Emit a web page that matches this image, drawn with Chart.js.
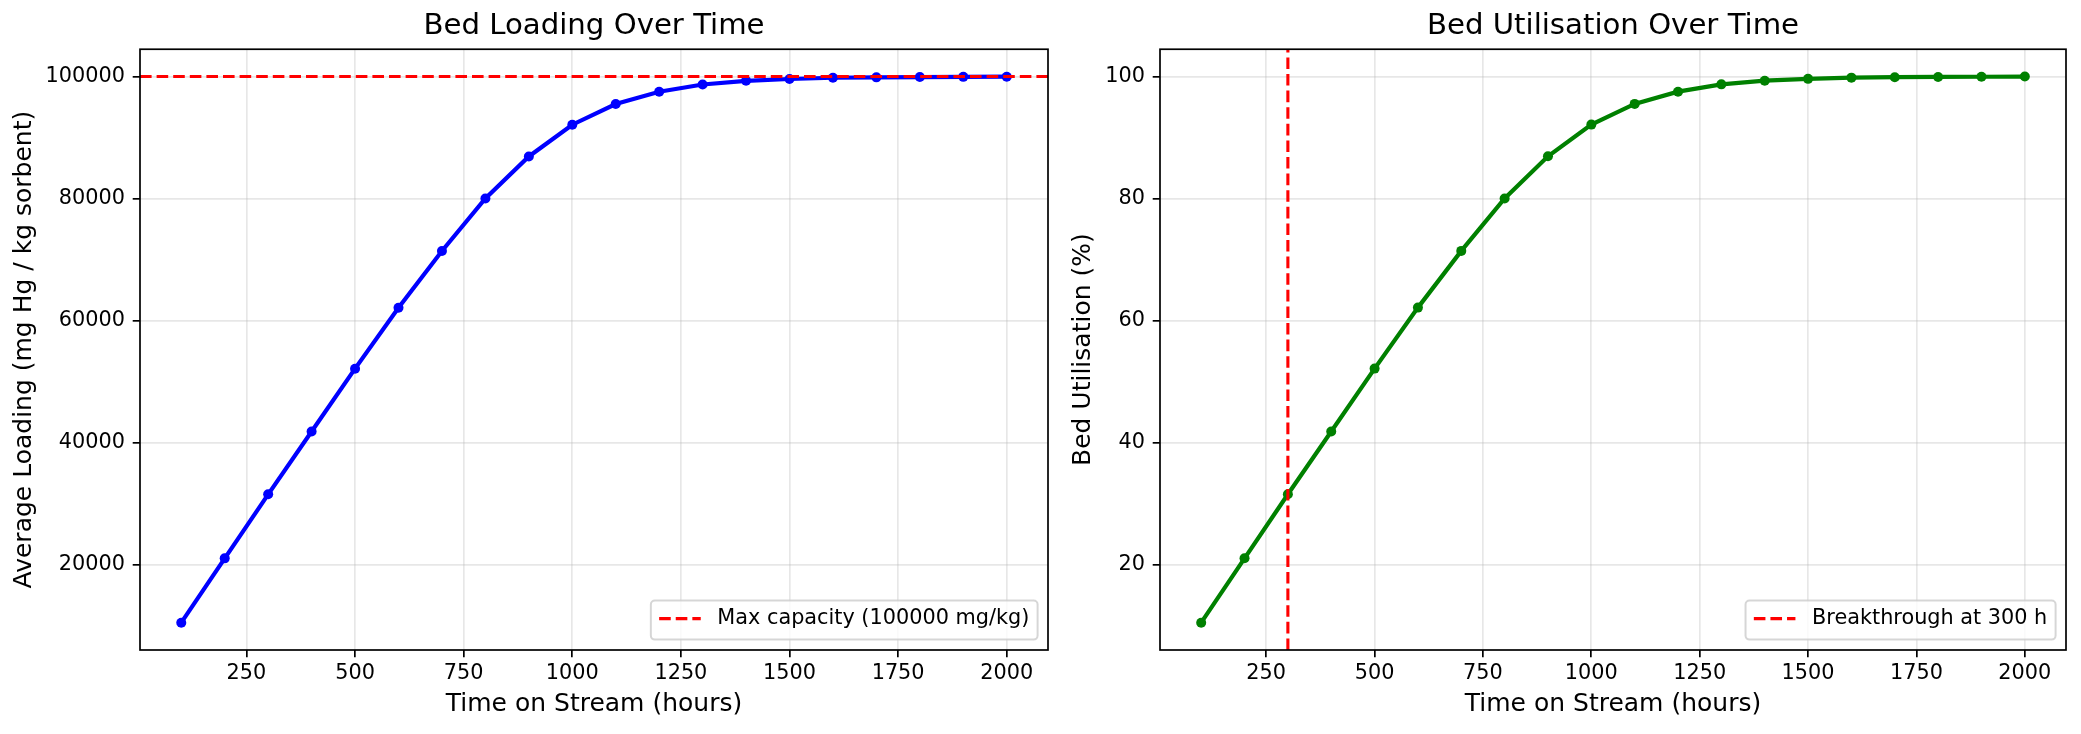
<!DOCTYPE html>
<html>
<head>
<meta charset="utf-8">
<script src="https://cdn.jsdelivr.net/npm/chart.js@4.4.1/dist/chart.umd.min.js"></script>
<style>
    body { margin: 0; background: #fff; }
    #left { position: absolute; left: 0; top: 0; }
    #right { position: absolute; left: 1060px; top: 0; }
</style>
</head>
<body>
<canvas id="left" width="1060" height="734"></canvas>
<canvas id="right" width="1021" height="734"></canvas>
<script>
// data
var hours = [100, 200, 300, 400, 500, 600, 700, 800, 900, 1000,
             1100, 1200, 1300, 1400, 1500, 1600, 1700, 1800, 1900, 2000];
var loading = [10450, 21000, 31500, 41800, 52100, 62100, 71400, 80000, 86900, 92100,
               95500, 97500, 98700, 99300, 99600, 99800, 99870, 99920, 99950, 99980];
var utilisation = [10.45, 21.0, 31.5, 41.8, 52.1, 62.1, 71.4, 80.0, 86.9, 92.1,
                   95.5, 97.5, 98.7, 99.3, 99.6, 99.8, 99.87, 99.92, 99.95, 99.98];
var maxCapacity = 100000;
var breakthroughHour = 300;

var xTicks = [250, 500, 750, 1000, 1250, 1500, 1750, 2000];
var loadingTicks = [20000, 40000, 60000, 80000, 100000];
var utilTicks = [20, 40, 60, 80, 100];

var FONT = '"DejaVu Sans", sans-serif';
var gridColor = 'rgba(176,176,176,0.3)';

// matplotlib style 5% margins
function range(lo, hi) {
    var p = (hi - lo) * 0.05;
    return [lo - p, hi + p];
}
var xr = range(Math.min.apply(null, hours), Math.max.apply(null, hours));
var lr = range(Math.min.apply(null, loading), maxCapacity);
var ur = range(Math.min.apply(null, utilisation), Math.max.apply(null, utilisation));

function points(xs, ys) {
    var out = [];
    for (var i = 0; i < xs.length; i++) out.push({x: xs[i], y: ys[i]});
    return out;
}

function fixedTicks(list) {
    return function (scale) {
        scale.ticks = list.map(function (v) { return {value: v}; });
    };
}

function xAxis() {
    return {
        type: 'linear', min: xr[0], max: xr[1],
        afterBuildTicks: fixedTicks(xTicks),
        afterFit: function (s) { s.height = 84; },
        border: {display: false},
        grid: {color: gridColor, lineWidth: 1.7, tickColor: '#000', tickWidth: 1.7, tickLength: 7.3},
        ticks: {color: '#000', font: {family: FONT, size: 20.8}, padding: 4, maxRotation: 0, autoSkip: false,
                callback: function (v) { return String(v); }},
        title: {display: true, text: 'Time on Stream (hours)', color: '#000',
                font: {family: FONT, size: 25}, padding: {top: 0, bottom: 14.7}}
    };
}

function yAxis(r, ticks, label, width, pad) {
    return {
        type: 'linear', min: r[0], max: r[1],
        afterBuildTicks: fixedTicks(ticks),
        afterFit: function (s) { s.width = width; },
        border: {display: false},
        grid: {color: gridColor, lineWidth: 1.7, tickColor: '#000', tickWidth: 1.7, tickLength: 7.3},
        ticks: {color: '#000', font: {family: FONT, size: 20.8}, padding: 7.7, autoSkip: false,
                callback: function (v) { return String(v); }},
        title: {display: true, text: label, color: '#000',
                font: {family: FONT, size: 25}, padding: {top: pad, bottom: 0}}
    };
}

// axes frame + matplotlib-like legend in the lower right corner
var frameLegend = {
    id: 'frameLegend',
    afterDraw: function (chart) {
        var ctx = chart.ctx, a = chart.chartArea;
        ctx.save();
        ctx.strokeStyle = '#000';
        ctx.lineWidth = 1.7;
        ctx.strokeRect(a.left, a.top, a.right - a.left, a.bottom - a.top);

        var ds = chart.data.datasets.filter(function (d) { return d.borderDash; })[0];
        ctx.font = '20.8px ' + FONT;
        var tw = ctx.measureText(ds.label).width;
        var w = 8.3 + 41.6 + 16.6 + tw + 8.3, h = 39;
        var x = a.right - 10.4 - w, y = a.bottom - 10.4 - h;
        ctx.beginPath();
        ctx.roundRect(x, y, w, h, 4);
        ctx.fillStyle = 'rgba(255,255,255,0.8)';
        ctx.fill();
        ctx.strokeStyle = 'rgba(204,204,204,0.8)';
        ctx.lineWidth = 2;
        ctx.stroke();

        var cy = y + h / 2 - 1.5;
        ctx.beginPath();
        ctx.setLineDash(ds.borderDash);
        ctx.strokeStyle = ds.borderColor;
        ctx.lineWidth = ds.borderWidth;
        ctx.moveTo(x + 8.3, cy);
        ctx.lineTo(x + 8.3 + 41.6, cy);
        ctx.stroke();
        ctx.setLineDash([]);

        ctx.fillStyle = '#000';
        ctx.textBaseline = 'middle';
        ctx.textAlign = 'left';
        ctx.fillText(ds.label, x + 8.3 + 41.6 + 16.6, cy);
        ctx.restore();
    }
};

function makeChart(id, title, datasets, yScale, rightPad) {
    return new Chart(document.getElementById(id), {
        type: 'line',
        data: {datasets: datasets},
        options: {
            responsive: false,
            animation: false,
            events: [],
            layout: {padding: {top: 0, left: 0, right: rightPad, bottom: 0}},
            scales: {x: xAxis(), y: yScale},
            plugins: {
                legend: {display: false},
                tooltip: {enabled: false},
                title: {display: true, text: title, color: '#000', fullSize: false,
                        font: {family: FONT, size: 29.2, weight: 'normal', lineHeight: 1.2},
                        padding: {top: 9.1, bottom: 5.1}}
            }
        },
        plugins: [frameLegend]
    });
}

makeChart('left', 'Bed Loading Over Time', [
    {
        label: 'Max capacity (' + maxCapacity + ' mg/kg)',
        data: [{x: xr[0], y: maxCapacity}, {x: xr[1], y: maxCapacity}],
        borderColor: '#ff0000', borderWidth: 3.1, borderDash: [11.6, 5],
        pointRadius: 0, order: 0
    },
    {
        label: 'Average loading',
        data: points(hours, loading),
        borderColor: '#0000ff', backgroundColor: '#0000ff', borderWidth: 4.2,
        pointRadius: 5, pointBorderWidth: 0, pointBackgroundColor: '#0000ff',
        tension: 0, order: 1
    }
], yAxis(lr, loadingTicks, 'Average Loading (mg Hg / kg sorbent)', 140, 9.3), 12);

makeChart('right', 'Bed Utilisation Over Time', [
    {
        label: 'Breakthrough at ' + breakthroughHour + ' h',
        data: [{x: breakthroughHour, y: ur[0]}, {x: breakthroughHour, y: ur[1]}],
        borderColor: '#ff0000', borderWidth: 3.1, borderDash: [11.6, 5],
        pointRadius: 0, order: 0
    },
    {
        label: 'Bed utilisation',
        data: points(hours, utilisation),
        borderColor: '#008000', backgroundColor: '#008000', borderWidth: 4.2,
        pointRadius: 5, pointBorderWidth: 0, pointBackgroundColor: '#008000',
        tension: 0, order: 1
    }
], yAxis(ur, utilTicks, 'Bed Utilisation (%)', 100, 8.5), 15);
</script>
</body>
</html>
